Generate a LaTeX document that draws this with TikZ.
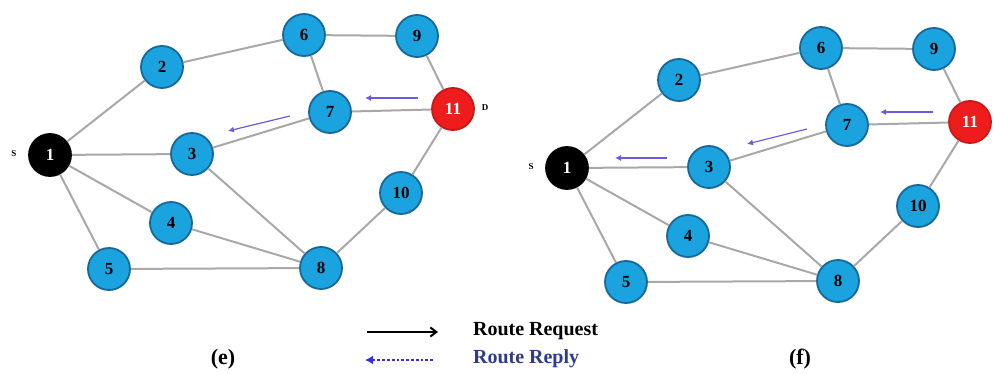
\documentclass[tikz,border=0pt]{standalone}
\usepackage{fontspec}
\setmainfont{Liberation Serif}
\usepackage{tikz}
\usetikzlibrary{arrows.meta}
\definecolor{NBlue}{HTML}{1BA3DF}
\definecolor{NRim}{HTML}{17679A}
\definecolor{NRed}{HTML}{EE1C1C}
\definecolor{LGray}{HTML}{A8A8A8}
\definecolor{RBlue}{HTML}{6A5AE0}
\definecolor{RDot}{HTML}{3A2BE8}
\definecolor{RText}{HTML}{2E3A8C}

\begin{document}
\begin{tikzpicture}[
  x=0.5pt,y=-0.5pt,
  n/.style={circle,draw=NRim,line width=0.9pt,fill=NBlue,minimum size=21pt,
    inner sep=0pt,font=\fontsize{8.5}{10}\selectfont\bfseries},
  src/.style={n,draw=black,fill=black,text=white},
  dst/.style={n,draw=NRed!85!black,fill=NRed,text=white},
  tag/.style={font=\fontsize{4.5}{5}\selectfont\bfseries},
  link/.style={draw=LGray,line width=1pt},
  rep/.style={-{Latex[length=3pt,width=3pt]},draw=RBlue,line width=0.6pt},
  repdot/.style={-{Latex[length=4pt,width=4.5pt]},draw=RDot,densely dotted,line width=1.4pt},
  req/.style={-{Straight Barb[length=3pt,width=4.5pt]},draw=black,line width=1pt},
  panel/.style={font=\fontsize{11}{13}\selectfont\bfseries}
]
  \useasboundingbox (0,0) rectangle (995,374);
  % two snapshots of the same network
  \foreach \p/\dx/\dy in {e/0/0,f/517/13}{
    \begin{scope}[shift={(\dx,\dy)}]
      \node[src] (\p1) at (50,155) {1};
      \node[n] (\p2) at (162,67) {2};
      \node[n] (\p3) at (192,154) {3};
      \node[n] (\p4) at (171,223) {4};
      \node[n] (\p5) at (109,269) {5};
      \node[n] (\p6) at (304,35) {6};
      \node[n] (\p7) at (330,112) {7};
      \node[n] (\p8) at (321,268) {8};
      \node[n] (\p9) at (417,36) {9};
      \node[n] (\p10) at (401,193) {10};
      \node[dst] (\p11) at (453,109) {11};
      \node[tag] (\p s) at (14,154) {S};
    \end{scope}
    \foreach \a/\b in {1/2,2/6,6/9,9/11,6/7,7/11,1/3,3/7,3/8,1/4,4/8,1/5,5/8,8/10,10/11}
      {\draw[link] (\p\a) -- (\p\b);}
  }
  \node[tag] (ed) at (485,108) {D};

  % route reply hops
  \coordinate (er1a) at (418,98);  \coordinate (er1b) at (365,98);
  \coordinate (er2a) at (290,116); \coordinate (er2b) at (228,131);
  \coordinate (fr1a) at (933,112); \coordinate (fr1b) at (880,112);
  \coordinate (fr2a) at (807,129); \coordinate (fr2b) at (747,144);
  \coordinate (fr3a) at (667,158); \coordinate (fr3b) at (615,158);
  \foreach \x/\y in {er1a/er1b,er2a/er2b,fr1a/fr1b,fr2a/fr2b,fr3a/fr3b}
    {\draw[rep] (\x) -- (\y);}

  % legend
  \node[anchor=west,font=\fontsize{10}{12}\selectfont\bfseries] (reqtxt) at (466,331) {Route Request};
  \node[anchor=west,font=\fontsize{10}{12}\selectfont\bfseries,text=RText] (reptxt) at (466,359) {Route Reply};
  \coordinate (reqa) at (367,332); \coordinate (reqb) at (438,332);
  \coordinate (repa) at (433,360); \coordinate (repb) at (365,360);
  \draw[req] (reqa) -- (reqb);
  \draw[repdot] (repa) -- (repb);

  \node[panel] (pe) at (223,359) {(e)};
  \node[panel] (pf) at (800,359) {(f)};
\end{tikzpicture}
\end{document}
